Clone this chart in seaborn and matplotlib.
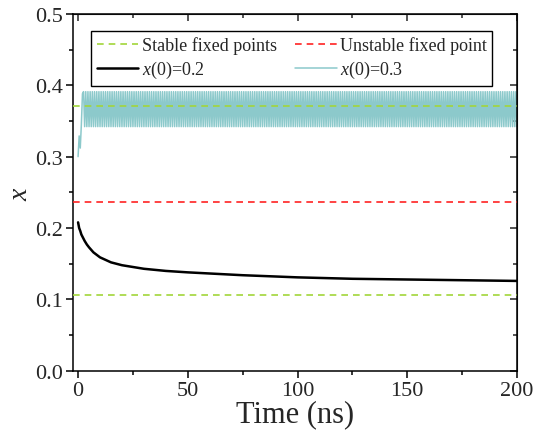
import numpy as np
import pandas as pd
import matplotlib
matplotlib.use("Agg")
import matplotlib.pyplot as plt
from matplotlib.ticker import MultipleLocator
import seaborn as sns

# fixed points
stable_pts = [0.106, 0.371]
unstable_pts = [0.237]

# x(0)=0.2 trajectory
t_02 = [0, 0.5, 1, 1.5, 2, 3, 4, 5, 7, 10, 15, 20, 30, 40, 50, 75, 100, 125, 150, 175, 200]
x_02 = [0.208, 0.200, 0.196, 0.191, 0.188, 0.182, 0.177, 0.173, 0.166, 0.159, 0.152, 0.148,
        0.143, 0.140, 0.138, 0.134, 0.131, 0.129, 0.128, 0.127, 0.126]

# x(0)=0.3 trajectory: short transient, then period-2 orbit between two levels
t_step = 0.5
x_03_start = [0.300, 0.329, 0.312, 0.345, 0.388]
x_03_hi, x_03_lo = 0.391, 0.342

n_rest = int(200 / t_step) + 1 - len(x_03_start)
x_03 = np.concatenate([x_03_start, np.tile([x_03_hi, x_03_lo], n_rest // 2 + 1)[:n_rest]])
t_03 = np.arange(len(x_03)) * t_step

sns.set_style("ticks")
plt.rcParams["font.family"] = ["Liberation Serif", "DejaVu Serif"]
plt.rcParams["mathtext.fontset"] = "custom"
plt.rcParams["mathtext.rm"] = "Liberation Serif"
plt.rcParams["mathtext.it"] = "Liberation Serif:italic"

fig = plt.figure(figsize=(5.33, 4.35), dpi=100)
ax = fig.add_axes([0.137, 0.145, 0.833, 0.821])

green = "#A2D63A"
red = "#FF2222"
cyan = "#8CC9CB"
dash = (0, (4, 3))

for i, v in enumerate(stable_pts):
    ax.axhline(v, color=green, lw=1.2, ls=dash, label="Stable fixed points" if i == 0 else None, zorder=3)
for v in unstable_pts:
    ax.axhline(v, color=red, lw=1.2, ls=dash, label="Unstable fixed point", zorder=3)

sns.lineplot(x=t_02, y=x_02, ax=ax, color="black", lw=1.8, label=r"$x$(0)=0.2", zorder=4)
sns.lineplot(x=t_03, y=x_03, ax=ax, color=cyan, lw=1.1, sort=False, estimator=None,
             label=r"$x$(0)=0.3", zorder=2)

ax.set_xlim(-2.3, 200)
ax.set_ylim(0, 0.5)
ax.xaxis.set_major_locator(MultipleLocator(50))
ax.xaxis.set_minor_locator(MultipleLocator(25))
ax.yaxis.set_major_locator(MultipleLocator(0.1))
ax.yaxis.set_minor_locator(MultipleLocator(0.05))
ax.yaxis.set_major_formatter(matplotlib.ticker.FormatStrFormatter("%.1f"))

ax.tick_params(which="major", direction="out", length=5, width=1.1, labelsize=16,
               color="black", pad=2)
ax.tick_params(which="minor", direction="out", length=3, width=1.1, color="black")
for s in ax.spines.values():
    s.set_linewidth(1.1)
    s.set_color("black")

# inward ticks on top and right
top = ax.secondary_xaxis("top")
top.xaxis.set_major_locator(MultipleLocator(50))
top.xaxis.set_minor_locator(MultipleLocator(25))
top.tick_params(which="major", direction="in", length=5, width=1.1, labeltop=False)
top.tick_params(which="minor", direction="in", length=3, width=1.1)
right = ax.secondary_yaxis("right")
right.yaxis.set_major_locator(MultipleLocator(0.1))
right.yaxis.set_minor_locator(MultipleLocator(0.05))
right.tick_params(which="major", direction="in", length=5, width=1.1, labelright=False)
right.tick_params(which="minor", direction="in", length=3, width=1.1)

ax.set_xlabel("Time (ns)", fontsize=22, labelpad=0)
ax.set_ylabel(r"$x$", fontsize=20, labelpad=2)

handles, labels = ax.get_legend_handles_labels()
order = [labels.index(l) for l in ["Stable fixed points", r"$x$(0)=0.2",
                                     "Unstable fixed point", r"$x$(0)=0.3"]]
leg = ax.legend([handles[i] for i in order], [labels[i] for i in order],
                ncol=2, loc="upper center", bbox_to_anchor=(0.493, 0.953),
                fontsize=13, frameon=True, fancybox=False, edgecolor="black",
                framealpha=1, handlelength=2.3, handletextpad=0.2, columnspacing=1.0,
                borderpad=0.3, labelspacing=0.3, borderaxespad=0)
leg.get_frame().set_linewidth(1.0)

fig.savefig("out.png", dpi=100)
